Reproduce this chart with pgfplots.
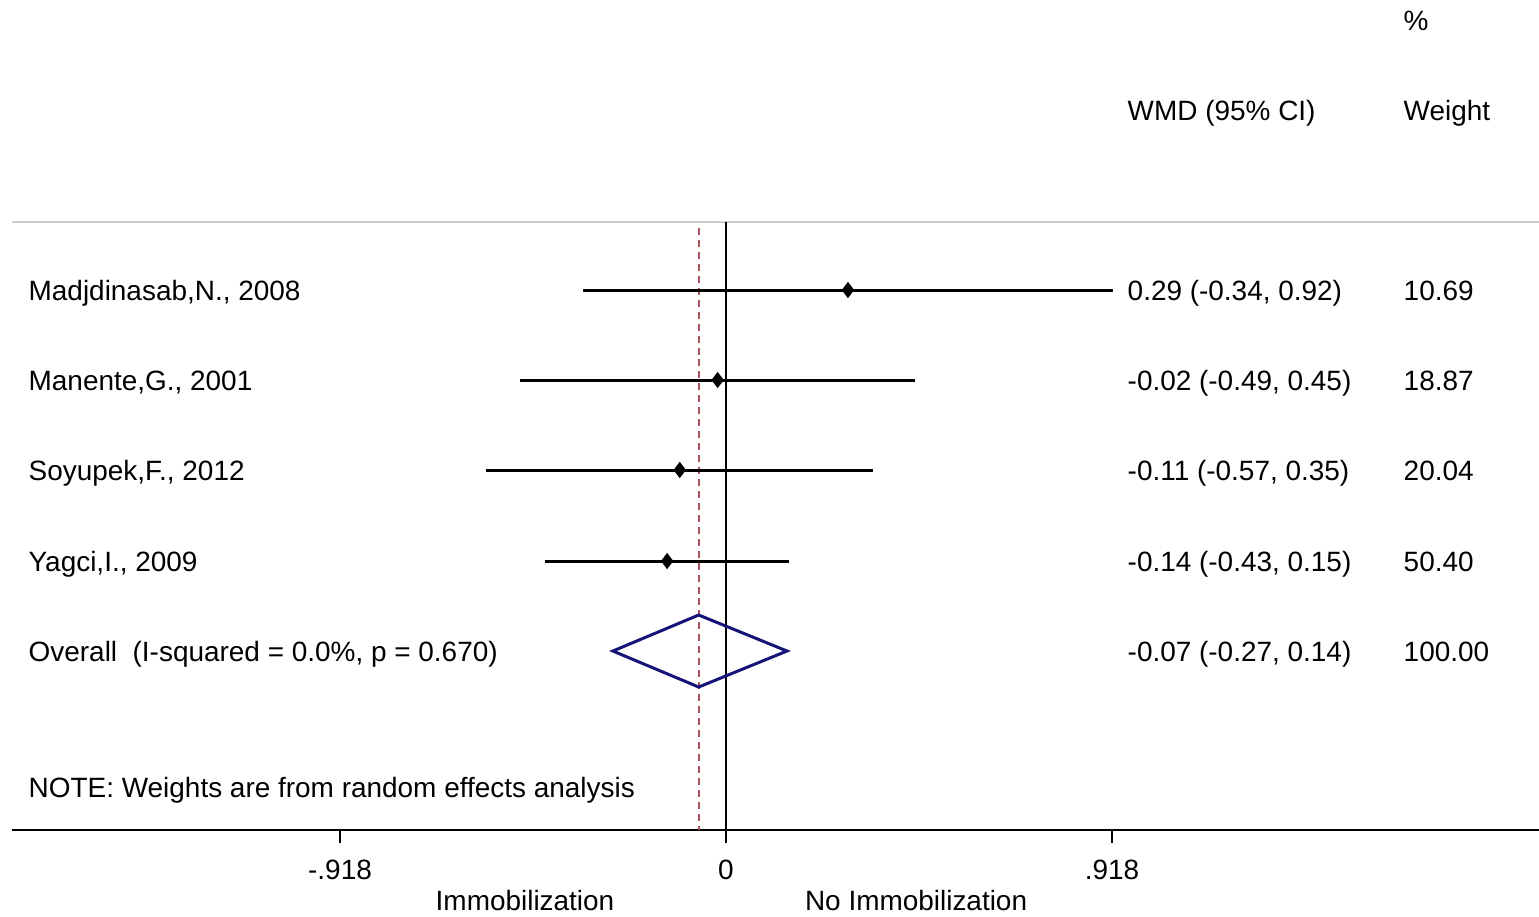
\documentclass[border=0pt]{standalone}
\usepackage{pgfplots}
\pgfplotsset{compat=1.18}
\usepackage{fontspec}
\setmainfont{Liberation Sans}
\definecolor{navyd}{RGB}{20,20,120}
\definecolor{refred}{RGB}{170,85,90}
\definecolor{lgray}{RGB}{205,205,205}
\begin{document}
\begin{tikzpicture}[every node/.style={font=\fontsize{7.95}{9}\selectfont, inner sep=0pt}]
\begin{axis}[scale only axis, width=15.39cm, height=9.16cm,
  xmin=-1.72652, xmax=1.93341, ymin=0, ymax=916, hide axis, clip=false]
% top rule and x axis
\addplot[lgray, line width=0.6pt] coordinates {(-1.698,694) (1.9334,694)};
\addplot[black, line width=0.6pt] coordinates {(-1.698,86) (1.9334,86)};
\addplot[black, line width=0.6pt] coordinates {(-0.918,86) (-0.918,73)};
\addplot[black, line width=0.6pt] coordinates {(0.918,86) (0.918,73)};
% null line
\addplot[black, line width=0.6pt] coordinates {(0,694) (0,73)};
% overall effect line
\addplot[refred, line width=0.6pt, dash pattern=on 2pt off 1.4pt] coordinates {(-0.065,688) (-0.065,86)};
% confidence intervals
\addplot[black, line width=0.85pt] coordinates {(-0.34,626) (0.92,626)};
\addplot[black, line width=0.85pt] coordinates {(-0.49,536) (0.45,536)};
\addplot[black, line width=0.85pt] coordinates {(-0.57,446) (0.35,446)};
\addplot[black, line width=0.85pt] coordinates {(-0.43,355) (0.15,355)};
% point estimates
\addplot[only marks, mark=diamond*, mark size=2pt, black] coordinates {
(0.29,626) (-0.02,536) (-0.11,446) (-0.14,355)};
% overall diamond
\addplot[navyd, line width=0.85pt] coordinates {(-0.269,265) (-0.065,301) (0.145,265) (-0.065,229)} -- cycle;
% study labels
\node[anchor=base west] at (axis cs:-1.660,616) {Madjdinasab,N., 2008};
\node[anchor=base west] at (axis cs:-1.660,526) {Manente,G., 2001};
\node[anchor=base west] at (axis cs:-1.660,436) {Soyupek,F., 2012};
\node[anchor=base west] at (axis cs:-1.660,345) {Yagci,I., 2009};
\node[anchor=base west] at (axis cs:-1.660,255) {Overall\ \ (I-squared = 0.0\%, p = 0.670)};
\node[anchor=base west] at (axis cs:-1.660,119) {NOTE: Weights are from random effects analysis};
% effect column
\node[anchor=base west] at (axis cs:0.9536,796) {WMD (95\% CI)};
\node[anchor=base west] at (axis cs:0.9536,616) {0.29 (-0.34, 0.92)};
\node[anchor=base west] at (axis cs:0.9536,526) {-0.02 (-0.49, 0.45)};
\node[anchor=base west] at (axis cs:0.9536,436) {-0.11 (-0.57, 0.35)};
\node[anchor=base west] at (axis cs:0.9536,345) {-0.14 (-0.43, 0.15)};
\node[anchor=base west] at (axis cs:0.9536,255) {-0.07 (-0.27, 0.14)};
% weight column
\node[anchor=base west] at (axis cs:1.610,886) {\%};
\node[anchor=base west] at (axis cs:1.610,796) {Weight};
\node[anchor=base west] at (axis cs:1.610,616) {10.69};
\node[anchor=base west] at (axis cs:1.610,526) {18.87};
\node[anchor=base west] at (axis cs:1.610,436) {20.04};
\node[anchor=base west] at (axis cs:1.610,345) {50.40};
\node[anchor=base west] at (axis cs:1.610,255) {100.00};
% tick labels
\node[anchor=base] at (axis cs:-0.918,37) {-.918};
\node[anchor=base] at (axis cs:0,37) {0};
\node[anchor=base] at (axis cs:0.918,37) {.918};
\node[anchor=base] at (axis cs:-0.478,6) {Immobilization};
\node[anchor=base] at (axis cs:0.452,6) {No Immobilization};
\end{axis}
\pgfresetboundingbox
\path (current axis.south west) rectangle (current axis.north east);
\end{tikzpicture}
\end{document}
